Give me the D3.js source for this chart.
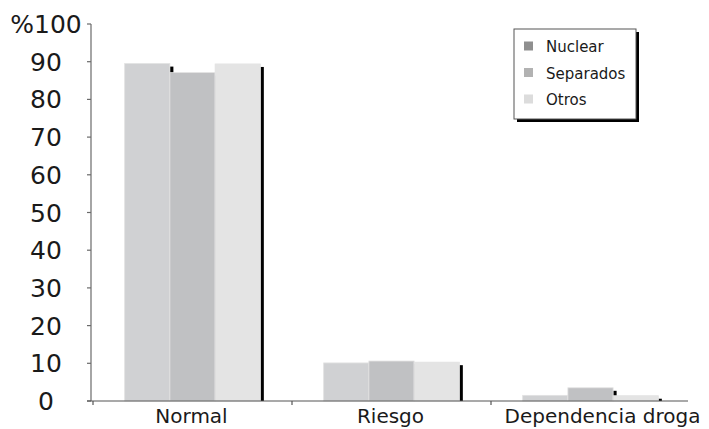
<!DOCTYPE html>
<html>
<head>
<meta charset="utf-8">
<script src="https://cdn.jsdelivr.net/npm/d3@7"></script>
<style>
  html, body { margin: 0; padding: 0; background: #fff; }
  svg { display: block; }
  text { font-family: "DejaVu Sans", Verdana, sans-serif; fill: #1a1a1a; }
</style>
</head>
<body>
<svg id="chart" width="709" height="429"></svg>
<script>
// Categories and series (percentages)
const categories = ["Normal", "Riesgo", "Dependencia droga"];
const series = ["Nuclear", "Separados", "Otros"];
const nuclear = [89.5, 10.1, 1.5];
const separados = [87.1, 10.6, 3.5];
const otros = [89.4, 10.3, 1.4];
const yTicks = [0, 10, 20, 30, 40, 50, 60, 70, 80, 90, 100];
const yTickLabels = ["0", "10", "20", "30", "40", "50", "60", "70", "80", "90", "%100"];

const values = [nuclear, separados, otros];
const barColors = ["#d0d1d3", "#c0c1c3", "#e4e4e4"];
const swatchColors = ["#8f8f8f", "#b2b2b2", "#dcdcdc"];

const svg = d3.select("#chart");

const y = d3.scaleLinear().domain([0, 100]).range([401, 24]);
const x0 = d3.scaleBand().domain(categories).range([93, 690]).paddingInner(0).paddingOuter(0);
const x1 = d3.scaleBand().domain(series).range([0, x0.bandwidth()]).paddingInner(0).paddingOuter(0.7);

// Bars with a dark drop shadow on the right; each following bar covers part of it
const groups = svg.append("g").selectAll("g")
  .data(categories)
  .join("g")
  .attr("transform", d => `translate(${x0(d)},0)`);

groups.each(function(cat, ci) {
  const g = d3.select(this);
  series.forEach((s, si) => {
    const v = values[si][ci];
    g.append("rect")
      .attr("x", x1(s) + x1.bandwidth())
      .attr("y", y(v) + 3)
      .attr("width", 3.5)
      .attr("height", Math.max(0, y(0) - y(v) - 3))
      .attr("fill", "#000");
    g.append("rect")
      .attr("x", x1(s))
      .attr("y", y(v))
      .attr("width", x1.bandwidth())
      .attr("height", y(0) - y(v))
      .attr("fill", barColors[si])
      .attr("stroke", "#e2e2e2")
      .attr("stroke-width", 0.8);
  });
});

// Y axis
const yAxis = svg.append("g").attr("transform", "translate(91,0)");
yAxis.append("line")
  .attr("x1", 0).attr("x2", 0)
  .attr("y1", y(100)).attr("y2", y(0))
  .attr("stroke", "#6a6a6a").attr("stroke-width", 1.2);
yAxis.selectAll("line.tick")
  .data(yTicks)
  .join("line")
  .attr("class", "tick")
  .attr("x1", -4).attr("x2", 0)
  .attr("y1", d => y(d)).attr("y2", d => y(d))
  .attr("stroke", "#6a6a6a").attr("stroke-width", 1.2);
svg.append("g").selectAll("text")
  .data(yTicks)
  .join("text")
  .attr("x", 46)
  .attr("y", d => y(d))
  .attr("dy", "0.36em")
  .attr("text-anchor", "middle")
  .attr("font-size", 25)
  .text((d, i) => yTickLabels[i]);

// X axis
const xAxis = svg.append("g");
xAxis.append("line")
  .attr("x1", 87).attr("x2", 688)
  .attr("y1", y(0)).attr("y2", y(0))
  .attr("stroke", "#555").attr("stroke-width", 1.2);
xAxis.selectAll("line.tick")
  .data(categories)
  .join("line")
  .attr("class", "tick")
  .attr("x1", d => x0(d)).attr("x2", d => x0(d))
  .attr("y1", y(0)).attr("y2", y(0) + 4)
  .attr("stroke", "#555").attr("stroke-width", 1.2);
xAxis.selectAll("text")
  .data(categories)
  .join("text")
  .attr("x", (d, i) => x0(d) + x0.bandwidth() / 2 + (i === 2 ? 12 : -1))
  .attr("y", 423)
  .attr("text-anchor", "middle")
  .attr("font-size", 20)
  .text(d => d);

// Legend
const legend = svg.append("g").attr("transform", "translate(514,29)");
legend.append("rect")
  .attr("x", 3).attr("y", 3).attr("width", 122).attr("height", 90)
  .attr("fill", "#000");
legend.append("rect")
  .attr("x", 0).attr("y", 0).attr("width", 122).attr("height", 90)
  .attr("fill", "#fff").attr("stroke", "#555").attr("stroke-width", 1);
const items = legend.selectAll("g.item")
  .data(series)
  .join("g")
  .attr("class", "item")
  .attr("transform", (d, i) => `translate(0,${17 + i * 26.5})`);
items.append("rect")
  .attr("x", 10).attr("y", -4.5).attr("width", 9).attr("height", 9)
  .attr("fill", (d, i) => swatchColors[i]);
items.append("text")
  .attr("x", 32).attr("y", 6)
  .attr("font-size", 15)
  .text(d => d);
</script>
</body>
</html>
